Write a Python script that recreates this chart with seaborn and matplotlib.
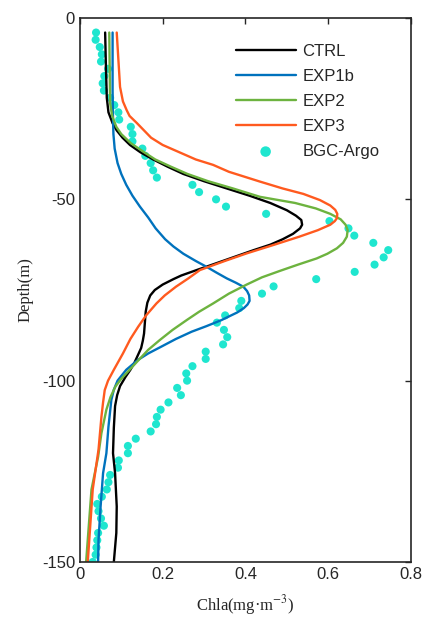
import numpy as np
import matplotlib
matplotlib.use("Agg")
import matplotlib.pyplot as plt
import seaborn as sns

# Chla profiles (depth in m, value in mg m^-3)
ctrl_depth = [-4, -14, -22, -26, -29, -31, -33, -35, -37, -39, -41, -43, -45, -47, -49, -51, -53, -54.5,
              -55.7, -57, -58, -59.5, -61, -62.5, -64, -66, -68, -69.5, -71, -72, -73.5, -75, -76.5, -78.5,
              -81, -84, -87, -89, -91, -93, -95, -97, -99, -101.5, -104, -107, -113, -120, -125.5, -134.7,
              -142, -150]
ctrl_val = [0.061, 0.063, 0.065, 0.069, 0.079, 0.089, 0.103, 0.121, 0.146, 0.177, 0.212, 0.25, 0.3, 0.355,
            0.41, 0.46, 0.5, 0.522, 0.535, 0.537, 0.532, 0.515, 0.49, 0.46, 0.42, 0.37, 0.32, 0.282, 0.245,
            0.226, 0.2, 0.181, 0.17, 0.163, 0.159, 0.157, 0.155, 0.152, 0.148, 0.14, 0.132, 0.122, 0.11,
            0.097, 0.09, 0.085, 0.082, 0.080, 0.085, 0.089, 0.088, 0.082]

exp1b_depth = [-4, -20, -28, -32, -36, -40, -43, -46, -49, -52, -55, -58, -61, -63, -65, -67, -68.6,
               -70.2, -71.8, -73, -74.1, -75.3, -76.5, -78, -79, -80, -81.2, -82.3, -83.3, -85, -86.5,
               -88.5, -90.6, -92.5, -94.3, -97, -100, -102.5, -105.3, -112.7, -120, -125.5, -134.7, -144, -150]
exp1b_val = [0.079, 0.079, 0.08, 0.081, 0.084, 0.091, 0.1, 0.112, 0.127, 0.145, 0.165, 0.183, 0.206, 0.226,
             0.25, 0.28, 0.306, 0.33, 0.355, 0.377, 0.395, 0.404, 0.409, 0.41, 0.405, 0.396, 0.38, 0.36,
             0.342, 0.305, 0.27, 0.232, 0.197, 0.165, 0.14, 0.112, 0.091, 0.082, 0.076, 0.069, 0.064, 0.056,
             0.050, 0.045, 0.044]

exp2_depth = [-4, -23.5, -27, -30, -32, -34.5, -37, -39, -41, -43, -45, -47, -49.3, -51, -52.5, -54,
              -55.5, -57, -58.5, -60.3, -62, -63.5, -65, -66.3, -68, -69.7, -71.5, -73.5, -76, -78.7, -81,
              -83.3, -86, -88.8, -91.5, -94.3, -97, -99.5, -101.6, -104.5, -108, -114.5, -121, -130, -150]
exp2_val = [0.071, 0.073, 0.078, 0.088, 0.1, 0.123, 0.155, 0.182, 0.22, 0.26, 0.31, 0.37, 0.435, 0.52,
            0.57, 0.605, 0.63, 0.642, 0.647, 0.645, 0.636, 0.621, 0.598, 0.572, 0.527, 0.484, 0.44, 0.403,
            0.36, 0.322, 0.288, 0.258, 0.224, 0.193, 0.165, 0.142, 0.12, 0.1, 0.086, 0.074, 0.064, 0.052,
            0.044, 0.028, 0.015]

exp3_depth = [-4, -19, -23, -25.4, -27, -29, -31, -33, -35, -37, -39, -40.5, -42.4, -45.1, -47, -48.5,
              -50.2, -51.7, -52.9, -54, -55.2, -56, -57, -58.5, -60.3, -62.5, -64.9, -67, -69.5, -71.8,
              -74.1, -76.5, -78.7, -82, -85.1, -88.5, -92.5, -97, -100, -102.6, -106, -110, -119, -130, -150]
exp3_val = [0.089, 0.097, 0.104, 0.113, 0.12, 0.138, 0.155, 0.172, 0.2, 0.24, 0.28, 0.322, 0.36, 0.435,
            0.49, 0.54, 0.58, 0.605, 0.617, 0.622, 0.621, 0.616, 0.605, 0.575, 0.53, 0.47, 0.403, 0.35,
            0.29, 0.262, 0.232, 0.205, 0.185, 0.16, 0.141, 0.122, 0.104, 0.082, 0.068, 0.06, 0.056, 0.052,
            0.045, 0.031, 0.019]

argo_depth = [-4, -6, -8, -10, -12, -14, -16, -18, -20, -22, -24, -26, -28, -30, -32, -34, -36, -38, -40, -42,
              -44, -46, -48, -50, -52, -54, -56, -58, -60, -62, -64, -66, -68, -70, -72, -74, -76, -78, -80, -82,
              -84, -86, -88, -90, -92, -94, -96, -98, -100, -102, -104, -106, -108, -110, -112, -114, -116, -118,
              -120, -122, -124, -126, -128, -130, -132, -134, -136, -138, -140, -142, -144, -146, -148, -150]
argo_val = [0.039, 0.038, 0.048, 0.053, 0.051, 0.068, 0.059, 0.055, 0.058, 0.073, 0.083, 0.093, 0.095, 0.123, 0.127,
            0.127, 0.151, 0.158, 0.171, 0.177, 0.186, 0.272, 0.288, 0.329, 0.353, 0.450, 0.603, 0.649, 0.663, 0.709,
            0.745, 0.734, 0.712, 0.664, 0.571, 0.468, 0.440, 0.390, 0.385, 0.351, 0.331, 0.348, 0.356, 0.346, 0.304,
            0.304, 0.272, 0.257, 0.259, 0.235, 0.244, 0.214, 0.195, 0.186, 0.184, 0.171, 0.135, 0.116, 0.116, 0.094,
            0.092, 0.073, 0.069, 0.065, 0.053, 0.042, 0.045, 0.051, 0.058, 0.044, 0.042, 0.040, 0.038, 0.031]

sns.set_style("white")
plt.rcParams["font.family"] = ["Liberation Sans", "DejaVu Sans"]
plt.rcParams["mathtext.fontset"] = "stix"
plt.rcParams["axes.unicode_minus"] = False

fig = plt.figure(figsize=(4.25, 6.22), dpi=100)
ax = fig.add_axes([0.188, 0.0965, 0.779, 0.8745])

lines = [("CTRL", ctrl_val, ctrl_depth, "black"),
         ("EXP1b", exp1b_val, exp1b_depth, "#0072BD"),
         ("EXP2", exp2_val, exp2_depth, "#6DB33F"),
         ("EXP3", exp3_val, exp3_depth, "#FF5A1F")]
for name, v, d, c in lines:
    sns.lineplot(x=v, y=d, sort=False, estimator=None, color=c, lw=1.7, label=name, ax=ax)

sns.scatterplot(x=argo_val, y=argo_depth, color="#1FE6CF", s=34, edgecolor="none", label="BGC-Argo", ax=ax)

ax.set_xlim(0, 0.8)
ax.set_ylim(-150, 0)
ax.set_xticks([0, 0.2, 0.4, 0.6, 0.8])
ax.set_xticklabels(["0", "0.2", "0.4", "0.6", "0.8"])
ax.set_yticks([-150, -100, -50, 0])
ax.tick_params(direction="in", length=4, width=1, top=True, right=True, labelsize=12, colors="#262626")
for s in ax.spines.values():
    s.set_color("#262626")
    s.set_linewidth(1.2)

ax.set_xlabel("Chla(mg·m$^{-3}$)", fontsize=12, family="Liberation Serif", labelpad=8)
ax.set_ylabel("Depth(m)", fontsize=12, family="Liberation Serif", labelpad=6)

ax.legend(loc="upper right", frameon=False, fontsize=12, handlelength=3.6, handletextpad=0.4,
          labelspacing=0.6, borderaxespad=0.6, bbox_to_anchor=(0.955, 0.983), markerscale=1.3)

fig.savefig("out.png", dpi=100)
